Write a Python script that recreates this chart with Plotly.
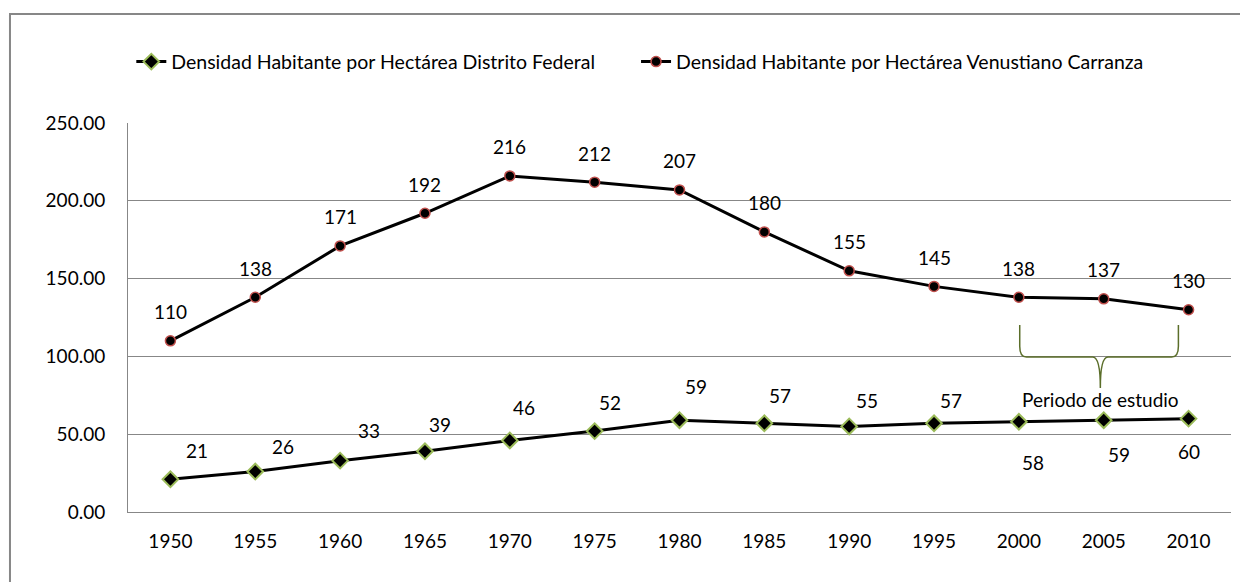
import plotly.graph_objects as go

years = ["1950", "1955", "1960", "1965", "1970", "1975", "1980", "1985", "1990", "1995", "2000", "2005", "2010"]
df_values = [21, 26, 33, 39, 46, 52, 59, 57, 55, 57, 58, 59, 60]
vc_values = [110, 138, 171, 192, 216, 212, 207, 180, 155, 145, 138, 137, 130]
df_name = "Densidad Habitante por Hectárea Distrito Federal"
vc_name = "Densidad Habitante por Hectárea Venustiano Carranza"
y_ticks = [0, 50, 100, 150, 200, 250]

# label nudges in pixels (dx, dy up)
df_label_shift = [(27, 29), (28, 25), (29, 30), (15, 27), (14, 33), (15, 29), (16, 34),
                  (16, 28), (18, 26), (17, 23), (14, -41), (15, -34), (0, -33)]
vc_label_shift = 29

FONT = "Lato, 'Open Sans', sans-serif"
FS = 19
GRID = "#878787"

xs = list(range(len(years)))

fig = go.Figure()
fig.add_trace(go.Scatter(
    x=xs, y=df_values, name=df_name, mode="lines+markers",
    line=dict(color="black", width=3),
    marker=dict(symbol="diamond", size=12, color="black", line=dict(color="#9BBB59", width=2)),
    hoverinfo="skip", legend="legend",
))
fig.add_trace(go.Scatter(
    x=xs, y=vc_values, name=vc_name, mode="lines+markers",
    line=dict(color="black", width=3),
    marker=dict(symbol="circle", size=10, color="black", line=dict(color="#C0504D", width=1.5)),
    hoverinfo="skip", legend="legend2",
))

annotations = []
for i, v in enumerate(df_values):
    dx, dy = df_label_shift[i]
    annotations.append(dict(x=i, y=v, text=str(v), showarrow=False, xshift=dx, yshift=dy,
                            font=dict(family=FONT, size=FS, color="black")))
for i, v in enumerate(vc_values):
    annotations.append(dict(x=i, y=v, text=str(v), showarrow=False, yshift=vc_label_shift,
                            font=dict(family=FONT, size=FS, color="black")))

# brace "Periodo de estudio"
annotations.append(dict(x=10.96, y=72, text="Periodo de estudio", showarrow=False,
                        font=dict(family=FONT, size=FS, color="black")))

xl, xr, xm = 10.01, 11.88, 10.96
ytop, ymid, ytip = 120.2, 99.6, 79.7
brace = (f"M {xl},{ytop} L {xl},{ymid+7} Q {xl},{ymid} {xl+0.08},{ymid} "
         f"L {xm-0.09},{ymid} Q {xm},{ymid} {xm},{ytip} "
         f"Q {xm},{ymid} {xm+0.09},{ymid} L {xr-0.08},{ymid} Q {xr},{ymid} {xr},{ymid+7} L {xr},{ytop}")

shapes = [
    dict(type="path", path=brace, xref="x", yref="y", line=dict(color="#5B6E2A", width=1.5)),
    dict(type="rect", xref="paper", yref="paper", x0=-0.107, x1=1.05, y0=-0.3, y1=1.280,
         line=dict(color=GRID, width=2), fillcolor="rgba(0,0,0,0)", layer="below"),
]

legend_common = dict(orientation="h", xanchor="left", y=1.157, yanchor="middle",
                     font=dict(family=FONT, size=19.5, color="black"), bgcolor="rgba(0,0,0,0)",
                     itemclick=False)

fig.update_layout(
    width=1240, height=574,
    margin=dict(l=120, r=17, t=115, b=70),
    paper_bgcolor="white", plot_bgcolor="white",
    font=dict(family=FONT, size=FS, color="black"),
    showlegend=True,
    legend=dict(x=0.003, **legend_common),
    legend2=dict(x=0.4606, **legend_common),
    annotations=annotations,
    shapes=shapes,
)
fig.update_xaxes(
    range=[-0.5, len(years) - 0.5], tickmode="array", tickvals=xs, ticktext=years,
    showgrid=False, showline=True, linecolor=GRID, linewidth=1, zeroline=False,
    ticks="", ticklabelstandoff=12, tickfont=dict(family=FONT, size=FS, color="black"),
    fixedrange=True,
)
fig.update_yaxes(
    range=[0, 250], tickvals=y_ticks, tickformat=".2f",
    showgrid=True, gridcolor=GRID, gridwidth=1, showline=True, linecolor=GRID, linewidth=1,
    zeroline=False, ticks="", ticklabelstandoff=18,
    tickfont=dict(family=FONT, size=FS, color="black"), fixedrange=True,
)

fig.write_html("out.html")
